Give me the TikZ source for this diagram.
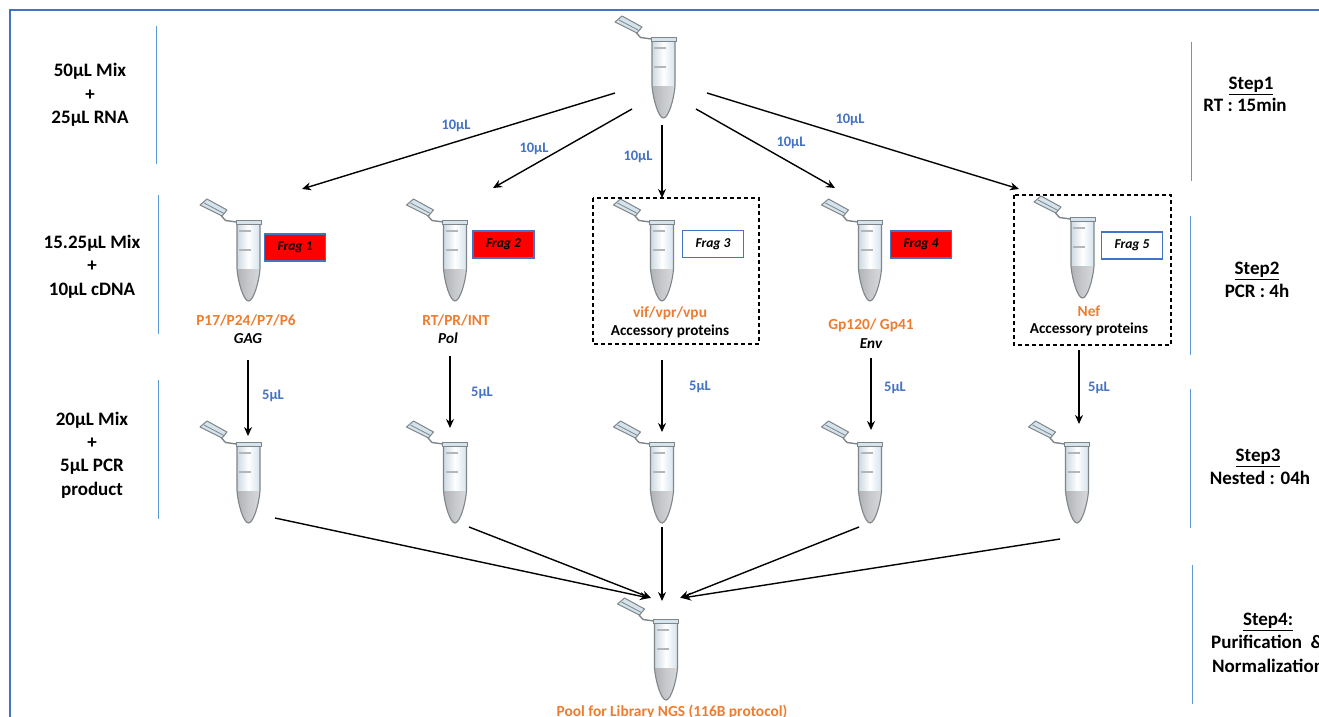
\documentclass[tikz,border=0pt]{standalone}
\usepackage{fontspec}
\setmainfont{Carlito}
\usetikzlibrary{arrows.meta}
\definecolor{fblue}{HTML}{4472C4}
\definecolor{lblue}{HTML}{5B9BD5}
\definecolor{txtblue}{HTML}{4472C4}
\definecolor{orng}{HTML}{ED7D31}
\definecolor{tubeedge}{HTML}{7F8689}
\definecolor{tubelight}{HTML}{D5E3EC}
\definecolor{liq}{HTML}{BDBFC3}
\tikzset{
  frame/.style={draw=fblue,line width=2pt},
  sep/.style={draw=lblue,line width=0.9pt},
  arr/.style={draw=black,line width=1.4pt,-{Stealth[length=9pt,width=8pt]}},
  dashbox/.style={draw=black,line width=1.2pt,dash pattern=on 4pt off 3pt},
  fragred/.style={draw=fblue,line width=1.6pt,fill=red,minimum width=61pt,minimum height=27pt,inner sep=0pt,font=\fontsize{13.5}{13.5}\selectfont\itshape\bfseries},
  fragwhite/.style={fragred,fill=white},
  vol/.style={text=txtblue,font=\fontsize{14.5}{15}\selectfont\bfseries,inner sep=0pt,yshift=-1pt},
  side/.style={align=center,font=\fontsize{19}{23.4}\selectfont\bfseries,inner sep=0pt,yshift=-1pt},
  stepname/.style={side,yshift=-3pt},
  prot/.style={text=orng,font=\fontsize{15.4}{16}\selectfont\bfseries,inner sep=0pt},
  sub/.style={font=\fontsize{15.2}{16}\selectfont\bfseries,inner sep=0pt,yshift=-0.5pt},
  subit/.style={font=\fontsize{15.2}{16}\selectfont\bfseries\itshape,inner sep=0pt,yshift=-0.5pt},
  tube/.pic={
    \fill[tubelight] (-11.5,0) -- (-11.5,47) -- (11.5,47) -- (11.5,0) -- cycle;
    \shade[left color=tubelight!90!gray,right color=tubelight,middle color=white] (-11.5,1) rectangle (11.5,47);
    \shade[left color=liq!80!gray,right color=liq!60!white,middle color=liq!85!white]
      (-11.5,47) -- (11.5,47) .. controls (10.5,60) and (5,79) .. (0,79) .. controls (-5,79) and (-10.5,60) .. (-11.5,47) -- cycle;
    \draw[tubeedge,line width=1.1pt] (-11.5,1) -- (-11.5,47) .. controls (-10.5,60) and (-5,79) .. (0,79) .. controls (5,79) and (10.5,60) .. (11.5,47) -- (11.5,1);
    \draw[tubeedge!60!white,line width=1.2pt] (-9.5,9) -- (2.5,9) (-9.5,28) -- (2.5,28);
    \draw[tubeedge,line width=0.9pt,fill=tubelight] (-12.5,-1.5) rectangle (12.5,2);
    \draw[tubeedge,line width=1.4pt] (-12,0) -- (-23,-1.5) -- (-27,-6);
    \draw[tubeedge,line width=1pt,fill=tubelight,line join=round] (-41.5,-23) -- (-21.5,-12) -- (-26.5,-6) -- (-48.5,-17) -- cycle;
    \draw[tubeedge,line width=0.8pt] (-44.5,-19) -- (-24.5,-8.5);
  }
}
\begin{document}
\begin{tikzpicture}[x=1pt,y=-1pt]
\useasboundingbox (0,0) rectangle (1319,717);
\clip (0,0) rectangle (1319,717);
\fill[white] (0,0) rectangle (1319,717);
\draw[frame] (1330,10.5) -- (9.5,10.5) -- (9.5,730);

% separators
\draw[sep] (156,26) -- (156,164);
\draw[sep] (158,195) -- (158,334);
\draw[sep] (158,380) -- (158,519);
\draw[sep] (1191,42) -- (1191,181);
\draw[sep] (1190,216) -- (1190,355);
\draw[sep] (1190,389) -- (1190,528);
\draw[sep] (1192,565) -- (1192,704);

% tubes
\pic at (663.5,39) {tube};
\pic at (248.5,222) {tube};
\pic at (455,222) {tube};
\pic at (662,222) {tube};
\pic at (870,222) {tube};
\pic at (1082.5,219) {tube};
\pic at (248.5,444) {tube};
\pic at (455,444) {tube};
\pic at (662,444) {tube};
\pic at (870,444) {tube};
\pic at (1077,444) {tube};
\pic at (666,621) {tube};

% dashed boxes
\draw[dashbox] (593,198) rectangle (759,344);
\draw[dashbox] (1014,195) rectangle (1171,345);

% frag labels
\node[fragred] (f1) at (295,247.5) {Frag 1};
\node[fragred] (f2) at (503.5,244.5) {Frag 2};
\node[fragwhite] (f3) at (713,244) {Frag 3};
\node[fragred] (f4) at (921,244.5) {Frag 4};
\node[fragwhite] (f5) at (1132,245.5) {Frag 5};

% protein labels
\node[prot] (p1) at (246,320) {P17/P24/P7/P6};
\node[subit] (g1) at (248,338) {GAG};
\node[prot] (p2) at (456,320) {RT/PR/INT};
\node[subit] (g2) at (448,338) {Pol};
\node[prot] (p3) at (670,313) {vif/vpr/vpu};
\node[sub] (g3) at (670,331) {Accessory proteins};
\node[prot] (p4) at (871,325) {Gp120/ Gp41};
\node[subit] (g4) at (871,343) {Env};
\node[prot] (p5) at (1089,311) {Nef};
\node[sub] (g5) at (1089,329) {Accessory proteins};
\node[prot] (p6) at (672,712) {Pool for Library NGS (116B protocol)};

% side labels
\node[side] (l1) at (90,94) {50µL Mix\\+\\25µL RNA};
\node[side] (l2) at (92,265.5) {15.25µL Mix\\+\\10µL cDNA};
\node[side] (l3) at (92,454) {20µL Mix\\+\\5µL PCR\\product};
\node[stepname] (r1) at (1251,82) {\underline{Step1}};
\node[side] (r1b) at (1245,104) {RT : 15min};
\node[stepname] (r2) at (1257,267) {\underline{Step2}};
\node[side] (r2b) at (1257,290) {PCR : 4h};
\node[stepname] (r3) at (1258,454) {\underline{Step3}};
\node[side] (r3b) at (1260,477) {Nested : 04h};
\node[stepname] (r4) at (1268,618) {\underline{Step4:}};
\node[side,anchor=west] (r4b) at (1211,641) {Purification \ \&};
\node[side,anchor=west] (r4c) at (1212,665) {Normalization};

% volumes
\node[vol] (v1) at (456,125) {10µL};
\node[vol] (v2) at (534,148) {10µL};
\node[vol] (v3) at (638,156) {10µL};
\node[vol] (v4) at (791,142) {10µL};
\node[vol] (v5) at (850,119) {10µL};
\node[vol] (w1) at (273,395) {5µL};
\node[vol] (w2) at (482,392) {5µL};
\node[vol] (w3) at (700,386) {5µL};
\node[vol] (w4) at (895,387) {5µL};
\node[vol] (w5) at (1099,387) {5µL};

% connector ends
\coordinate (a1) at (615,93);  \coordinate (b1) at (302,189);
\coordinate (a2) at (632,109); \coordinate (b2) at (493,188);
\coordinate (a3) at (662,125); \coordinate (b3) at (662,198);
\coordinate (a4) at (696,109); \coordinate (b4) at (835,188);
\coordinate (a5) at (707,93);  \coordinate (b5) at (1019,189);
\coordinate (c1) at (248,360); \coordinate (d1) at (248,436);
\coordinate (c2) at (450,356); \coordinate (d2) at (450,428);
\coordinate (c3) at (662,360); \coordinate (d3) at (662,432);
\coordinate (c4) at (871,358); \coordinate (d4) at (871,430);
\coordinate (c5) at (1079,350);\coordinate (d5) at (1079,424);
\coordinate (e1) at (275,518); \coordinate (t1) at (649,598);
\coordinate (e2) at (469,527); \coordinate (t2) at (651,598);
\coordinate (e3) at (662,527); \coordinate (t3) at (662,601);
\coordinate (e4) at (859,527); \coordinate (t4) at (680,598);
\coordinate (e5) at (1060,539);\coordinate (t5) at (682,598);
\foreach \s/\t in {a1/b1,a2/b2,a3/b3,a4/b4,a5/b5,c1/d1,c2/d2,c3/d3,c4/d4,c5/d5,e1/t1,e2/t2,e3/t3,e4/t4,e5/t5}
  \draw[arr] (\s) -- (\t);
\end{tikzpicture}
\end{document}
